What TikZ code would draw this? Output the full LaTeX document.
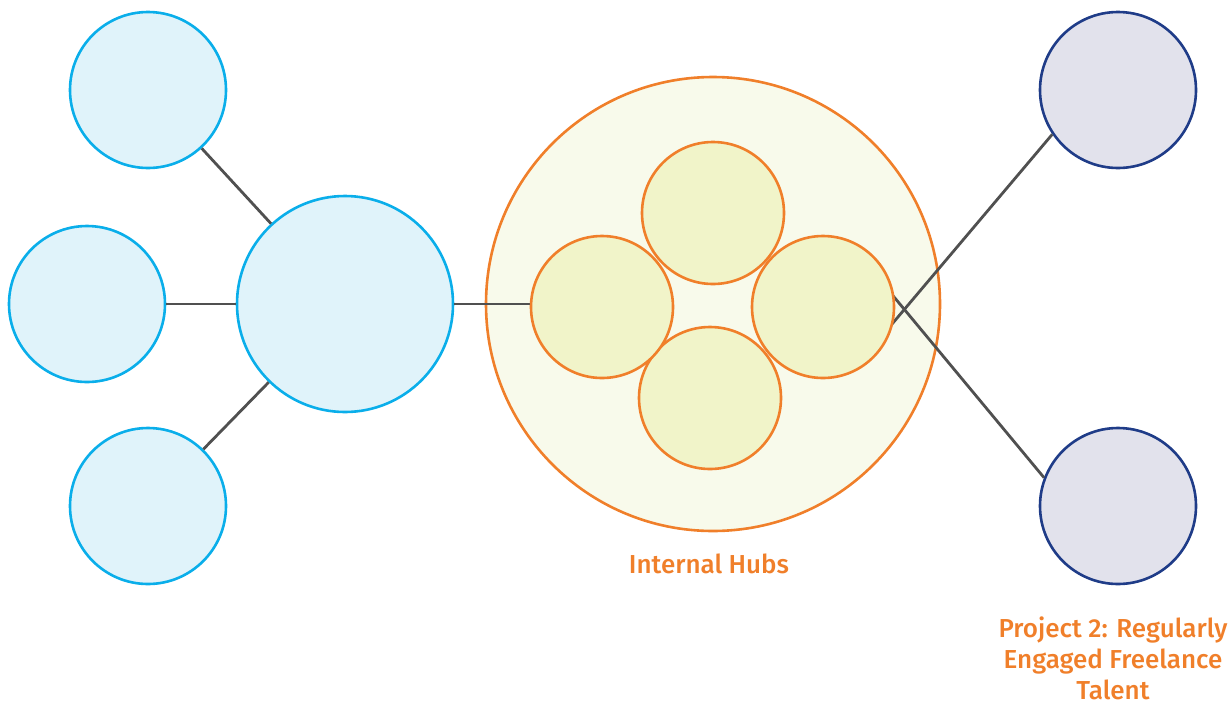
\documentclass[tikz,border=0pt]{standalone}
\usepackage{fontspec}
\setmainfont{Fira Sans}[BoldFont={Fira Sans Medium}]
\definecolor{cblue}{HTML}{0AAEEA}
\definecolor{cbluef}{HTML}{E0F3FA}
\definecolor{cnavy}{HTML}{1F3C88}
\definecolor{cnavyf}{HTML}{E2E2EC}
\definecolor{corange}{HTML}{F07F2A}
\definecolor{cbigf}{HTML}{F8FAEB}
\definecolor{chubf}{HTML}{F1F4C9}
\definecolor{cline}{HTML}{505050}
\begin{document}
\begin{tikzpicture}[x=1pt,y=-1pt,
  bluec/.style={circle,draw=cblue,fill=cbluef,line width=2.6pt,inner sep=0pt},
  navyc/.style={circle,draw=cnavy,fill=cnavyf,line width=2.6pt,inner sep=0pt,minimum size=156pt},
  hubc/.style={circle,draw=corange,fill=chubf,line width=2.6pt,inner sep=0pt,minimum size=142pt},
  conn/.style={draw=cline,line width=2.8pt},
  lbl/.style={text=corange,font=\fontsize{26}{31}\selectfont\bfseries,align=center}]
\useasboundingbox (0,0) rectangle (1232,705);
\node[circle,draw=corange,fill=cbigf,line width=2.6pt,inner sep=0pt,minimum size=454pt] (big) at (713,304) {};
\node[bluec,minimum size=156pt] (lt) at (148,90) {};
\node[bluec,minimum size=156pt] (lm) at (87,304) {};
\node[bluec,minimum size=156pt] (lb) at (148,506) {};
\node[bluec,minimum size=216pt] (c) at (345,304) {};
\node[navyc] (rt) at (1118,90) {};
\node[navyc] (rb) at (1118,506) {};
\coordinate (hlw) at (602,304);
\coordinate (hrw) at (823,307);
\draw[conn] (lt) -- (c);
\draw[conn] (lm) -- (c);
\draw[conn] (lb) -- (c);
\draw[conn] (c.east) -- (hlw);
\draw[conn] (hrw) ++(14:71) coordinate (hre1) (hre1) -- (rt.214);
\draw[conn] (hrw) ++(-9:71) coordinate (hre2) (hre2) -- (rb.159);
\node[hubc] (ht) at (713,213) {};
\node[hubc] (hb) at (710,398) {};
\node[hubc] (hl) at (602,307) {};
\node[hubc] (hr) at (823,307) {};
\node[lbl] (t1) at (709,564) {Internal Hubs};
\node[lbl,anchor=north,inner sep=0pt] (t2) at (1113,617) {Project 2: Regularly\\Engaged Freelance\\Talent};
\end{tikzpicture}
\end{document}
